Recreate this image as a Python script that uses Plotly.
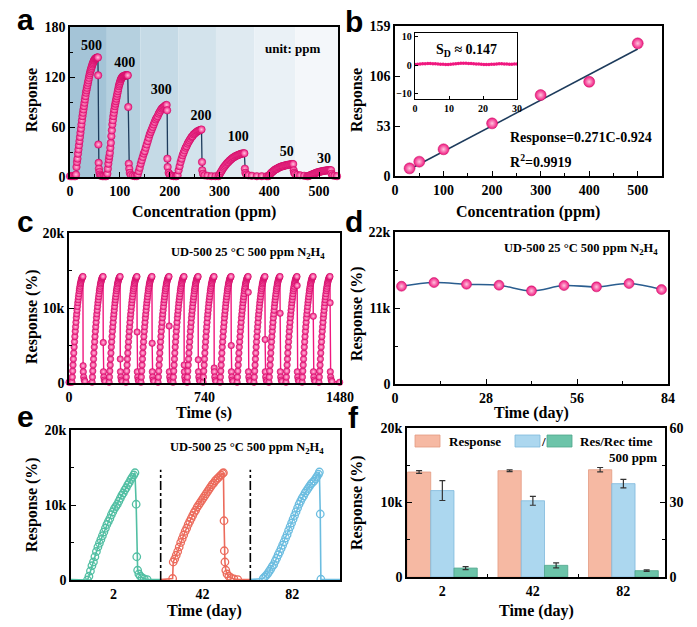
import plotly.graph_objects as go

SERIF = "Liberation Serif"
SANS = "Liberation Sans"
PINK = "#f0177f"
PINK_HI = "#ffc4de"
NAVY = "#1d3b5c"

# ---------------- a : dynamic response 500 -> 30 ppm ----------------
a_x_500 = [0, 3, 6, 9, 11] + list(range(12, 57)) + [56.5, 57, 57.5, 58, 59, 60, 62, 65, 68, 71]
a_r_500 = [1, 1, 1, 1, 1,
           3, 12, 18, 22, 28, 33, 38, 43, 48, 53, 58, 63, 68, 73, 77, 81, 85, 89, 93, 97,
           101, 104, 107, 110, 113, 116, 119, 122, 124.5, 127, 129, 131, 133, 135, 136.5,
           138, 139.5, 140.5, 141.5, 142, 142.5, 143, 143, 143.5, 143.5,
           122, 39, 17, 10, 6, 3, 1.5, 1, 1, 1]
a_x_400 = [73] + list(range(75, 117)) + [117, 118, 119, 120, 122, 126, 130, 134]
a_r_400 = [1,
           4, 10, 16, 21, 25, 29, 35, 41, 49, 56, 63, 68, 73, 77, 81, 85, 88, 91, 94, 97,
           100, 103, 106, 109, 111, 113, 115, 117, 118, 119, 120, 120.5, 121, 121, 121.5,
           121.5, 122, 122, 122, 122, 122, 122,
           84, 16, 10, 5, 2.5, 1.5, 1, 1]
a_x_300 = list(range(136, 195, 2)) + [195, 195.5, 196, 198, 200, 204, 208, 212]
a_r_300 = [3, 7, 11, 16, 20, 24, 28, 31, 35, 39, 43, 47, 51, 54, 57, 60, 63, 66, 69, 71,
           73, 76, 78, 80, 82, 83, 84, 85, 86, 86.5,
           80, 22, 12, 5, 3, 1.5, 1, 1]
a_x_200 = [214] + list(range(216, 265, 2)) + [265, 265.5, 267, 270, 276, 284, 292]
a_r_200 = [1,
           2, 8, 13, 18, 22, 26, 29, 32, 35, 37, 40, 42, 44, 46, 48, 49, 51, 52, 53, 54,
           55, 55.5, 56, 56.5, 57,
           18, 8, 4, 2, 1.5, 1, 1]
a_x_100 = list(range(298, 351, 2)) + [351, 352, 354, 358, 365, 375, 385, 395]
a_r_100 = [1, 3, 5, 7, 9, 11, 12.5, 14, 15.5, 17, 18, 19.5, 20.5, 21.5, 22.5, 23.5, 24,
           25, 25.5, 26, 26.5, 27, 27.5, 28, 28, 28.5, 28.5,
           10, 5, 3, 2, 1.5, 1, 1, 1]
a_x_50 = list(range(398, 449, 2)) + [449, 450, 452, 456, 462, 470, 476]
a_r_50 = [1, 2, 3.5, 5, 6, 7, 8, 9, 9.5, 10, 11, 11.5, 12, 12.5, 13, 13, 13.5, 14, 14,
          14.5, 14.5, 15, 15, 15.5, 15.5, 15.5,
          8, 5, 3.5, 2.5, 2, 1.5, 1]
a_x_30 = list(range(478, 525, 2)) + [525, 527, 531, 536]
a_r_30 = [1, 1.5, 2, 2.5, 3, 3.5, 4, 4.5, 5, 5.5, 5.8, 6.1, 6.4, 6.7, 7, 7.2, 7.4, 7.6,
          7.8, 8, 8, 8.2, 8.2, 8.2,
          4, 2, 1.5, 1]
a_labels = ["500", "400", "300", "200", "100", "50", "30"]
a_label_x = [43, 110, 183, 263, 338, 435, 510]
a_label_y = [157, 136, 104, 73, 47, 29, 21]
a_band_edges = [0, 74, 141, 218, 293, 370, 452, 540]
a_band_colors = ["#a4c4d7", "#b5d0df", "#c5dae6", "#d3e3ec", "#dfeaf1", "#eaf1f6", "#f4f7fa"]

# ---------------- b : calibration + noise inset ----------------
b_conc = [30, 50, 100, 200, 300, 400, 500]
b_resp = [8.1, 15.2, 28.3, 55.8, 85.8, 99.9, 140.6]
b_slope = 0.271
b_icpt = -0.924
b_in_t = [i * 0.75 for i in range(41)]
b_in_r = [0.3, 0.4, 0.5, 0.6, 0.6, 0.7, 0.7, 0.6, 0.6, 0.5,
          0.4, 0.4, 0.3, 0.3, 0.4, 0.5, 0.6, 0.7, 0.8, 0.8,
          0.8, 0.7, 0.7, 0.6, 0.5, 0.5, 0.4, 0.3, 0.3, 0.3,
          0.4, 0.4, 0.5, 0.6, 0.6, 0.5, 0.5, 0.4, 0.4, 0.5, 0.5]

# ---------------- c : 16 repeated cycles ----------------
c_rise_dt = list(range(0, 61, 2))
c_rise_k = [0.1, 0.8, 1.6, 2.4, 3.2, 4.0, 4.8, 5.5, 6.2, 6.9, 7.5, 8.1, 8.7, 9.2, 9.7,
            10.2, 10.7, 11.1, 11.5, 11.9, 12.3, 12.6, 12.9, 13.2, 13.4, 13.6, 13.8,
            13.95, 14.05, 14.15, 14.2]
c_tail_dt = [62, 64, 67, 71]
c_tail_k = [1.5, 0.8, 0.4, 0.2]
c_peak_s = [76, 186, 279, 371, 453, 546, 628, 705, 792, 885, 978, 1070, 1152, 1245, 1333, 1425]
c_drop_k = [2.3, 5.4, 3.2, 6.8, 5.3, 7.6, 2.4, 3.1, 2.0, 5.0, 12.1, 5.8, 9.3, 13.0, 8.9, 10.7]

# ---------------- d : long-term stability ----------------
d_day = [2, 12, 22, 32, 42, 52, 62, 72, 82]
d_resp_k = [14.15, 14.68, 14.44, 14.3, 13.48, 14.25, 14.06, 14.54, 13.67]

# ---------------- e : response curves on day 2 / 42 / 82 ----------------
e_seg_edges = [0, 300, 600, 900]
e_tick_pos = [142, 440, 740]
e_tick_txt = ["2", "42", "82"]
e_t_d2 = [55, 60, 65, 70, 75, 80, 85, 90, 95, 100, 105, 110, 115, 120, 125, 130, 135, 140,
          145, 150, 155, 160, 165, 170, 175, 180, 185, 190, 195, 200, 205, 210, 214,
          218, 220, 223, 227, 232, 238, 245, 255]
e_r_d2 = [0.0, 0.5, 1.2, 1.9, 2.4, 3.1, 3.8, 4.4, 4.9, 5.4, 5.9, 6.4, 6.9, 7.4, 7.8, 8.2,
          8.7, 9.1, 9.5, 9.8, 10.1, 10.5, 10.9, 11.3, 11.6, 12.0, 12.3, 12.7, 13.0, 13.4,
          13.7, 14.0, 14.3,
          10.1, 3.1, 1.3, 0.8, 0.5, 0.3, 0.15, 0.05]
e_t_d42 = [340, 342, 347, 352, 357, 362, 367, 372, 377, 382, 387, 392, 397, 402, 407, 412,
           417, 422, 427, 432, 437, 442, 447, 452, 457, 462, 467, 472, 477, 482, 487, 492,
           497, 502, 507, 510,
           512, 513, 515, 518, 522, 528, 535, 545, 558]
e_r_d42 = [0.2, 2.4, 2.8, 3.3, 3.8, 4.4, 5.0, 5.5, 6.0, 6.5, 6.9, 7.4, 7.8, 8.2, 8.6, 9.0,
           9.3, 9.7, 10.0, 10.3, 10.6, 10.9, 11.2, 11.5, 11.8, 12.1, 12.4, 12.7, 12.9, 13.2,
           13.4, 13.6, 13.8, 14.0, 14.2, 14.3,
           7.9, 3.9, 2.4, 1.3, 0.8, 0.5, 0.3, 0.15, 0.05]
e_t_d82 = [643, 648, 653, 658, 663, 668, 673, 678, 683, 688, 693, 698, 703, 708, 713, 718,
           723, 728, 733, 738, 743, 748, 753, 758, 763, 768, 773, 778, 783, 788, 793, 798,
           803, 808, 813, 818, 823, 828, 831,
           834, 836]
e_r_d82 = [0.2, 0.4, 0.6, 0.85, 1.15, 1.45, 1.8, 2.05, 2.5, 2.9, 3.35, 3.75, 4.2, 4.65, 5.1,
           5.6, 6.05, 6.6, 7.1, 7.6, 8.1, 8.6, 9.1, 9.6, 10.1, 10.5, 10.9, 11.2, 11.6, 11.9,
           12.2, 12.5, 12.8, 13.0, 13.2, 13.5, 13.8, 14.1, 14.4,
           8.8, 0.1]
e_colors = ["#52bfa3", "#ec6b5c", "#6cbde0"]

# ---------------- f : bars ----------------
f_days = ["2", "42", "82"]
f_pos = [0, 1, 2]
f_resp_k = [14.09, 14.27, 14.4]
f_resp_err = [0.18, 0.12, 0.3]
f_res_s = [34.8, 30.7, 37.6]
f_res_err = [4.0, 1.8, 1.7]
f_rec_s = [3.6, 4.7, 2.55]
f_rec_err = [0.6, 1.0, 0.3]

# page body has an 8 px margin, so lay the figure out in screen pixels minus that
W, H, OFF = 689, 619, 8


def PX(x):
    return (x - OFF) / W


def PY(y):
    return 1 - (y - OFF) / H


def dom_x(x0, x1):
    return [PX(x0), PX(x1)]


def dom_y(top, bottom):
    return [PY(bottom), PY(top)]


fig = go.Figure()


def sphere(size):
    return dict(color=PINK, size=size, line=dict(color="#c40f63", width=0.5),
                gradient=dict(type="radial", color=PINK_HI))


# a
a_x, a_r = [], []
for xs, rs in [(a_x_500, a_r_500), (a_x_400, a_r_400), (a_x_300, a_r_300), (a_x_200, a_r_200),
               (a_x_100, a_r_100), (a_x_50, a_r_50), (a_x_30, a_r_30)]:
    a_x += xs
    a_r += rs
fig.add_trace(go.Scatter(x=a_x, y=a_r, mode="lines+markers", xaxis="x", yaxis="y",
                         line=dict(color=NAVY, width=1.3), marker=sphere(7.5), cliponaxis=False))
fig.add_trace(go.Scatter(x=a_label_x, y=a_label_y, text=a_labels, mode="text", xaxis="x", yaxis="y",
                         textfont=dict(family=SERIF, size=14, color="black", weight="bold")))

# b
fit_x = [min(b_conc), max(b_conc)]
fit_y = [b_slope * v + b_icpt for v in fit_x]
fig.add_trace(go.Scatter(x=fit_x, y=fit_y, mode="lines", xaxis="x2", yaxis="y2",
                         line=dict(color=NAVY, width=1.6)))
fig.add_trace(go.Scatter(x=b_conc, y=b_resp, mode="markers", xaxis="x2", yaxis="y2",
                         marker=sphere(11)))
fig.add_trace(go.Scatter(x=b_in_t, y=b_in_r, mode="lines+markers", xaxis="x3", yaxis="y3",
                         line=dict(color=PINK, width=1), marker=dict(color=PINK, size=3.5)))

# c
c_t, c_k = [0, 8], [0.1, 0.1]
for pk, mid in zip(c_peak_s, c_drop_k):
    t0 = pk - 60
    c_t += [t0 + d for d in c_rise_dt] + [t0 + 61] + [t0 + d for d in c_tail_dt]
    c_k += c_rise_k + [mid] + c_tail_k
c_t += [1478]
c_k += [0.1]
fig.add_trace(go.Scatter(x=c_t, y=c_k, mode="lines+markers", xaxis="x4", yaxis="y4",
                         line=dict(color=PINK, width=1.4), marker=sphere(6.5), cliponaxis=False))

# d
fig.add_trace(go.Scatter(x=d_day, y=d_resp_k, mode="lines+markers", xaxis="x5", yaxis="y5",
                         line=dict(color="#2a5d8f", width=1.6, shape="spline"), marker=sphere(10)))

# e
for i, (ts, rs) in enumerate([(e_t_d2, e_r_d2), (e_t_d42, e_r_d42), (e_t_d82, e_r_d82)]):
    fig.add_trace(go.Scatter(x=[e_seg_edges[i]] + ts + [e_seg_edges[i + 1]], y=[0.05] + rs + [0.05],
                             mode="lines", xaxis="x6", yaxis="y6",
                             line=dict(color=e_colors[i], width=1.6)))
    fig.add_trace(go.Scatter(x=ts, y=rs, mode="markers", xaxis="x6", yaxis="y6",
                             marker=dict(symbol="circle-open", size=7.5, color=e_colors[i],
                                         line=dict(width=1.3))))

# f
bar_w = 0.257
fig.add_trace(go.Bar(x=f_pos, y=f_resp_k, xaxis="x7", yaxis="y7", width=bar_w, offset=-0.385,
                     marker=dict(color="#f6b9a3", line=dict(color="#e39a82", width=0.8)),
                     error_y=dict(type="data", array=f_resp_err, color="#333", thickness=1.2, width=3)))
fig.add_trace(go.Bar(x=f_pos, y=f_res_s, xaxis="x7", yaxis="y8", width=bar_w, offset=-0.128,
                     marker=dict(color="#acd7ef", line=dict(color="#7fb9dc", width=0.8)),
                     error_y=dict(type="data", array=f_res_err, color="#333", thickness=1.2, width=3)))
fig.add_trace(go.Bar(x=f_pos, y=f_rec_s, xaxis="x7", yaxis="y8", width=bar_w, offset=0.129,
                     marker=dict(color="#6cc4a9", line=dict(color="#4fa68b", width=0.8)),
                     error_y=dict(type="data", array=f_rec_err, color="#333", thickness=1.2, width=3)))


def frame(**kw):
    d = dict(showline=True, linecolor="black", linewidth=1.6, mirror=True, ticks="inside",
             ticklen=5, tickwidth=1.3, tickcolor="black", showgrid=False, zeroline=False,
             automargin=False,
             tickfont=dict(family=SERIF, size=14, color="black", weight="bold"))
    d.update(kw)
    return d


def minor(**kw):
    d = dict(ticks="inside", ticklen=3, tickwidth=1, tickcolor="black")
    d.update(kw)
    return d


shapes = []
for i, col in enumerate(a_band_colors):
    shapes.append(dict(type="rect", xref="x", yref="y domain", x0=a_band_edges[i], x1=a_band_edges[i + 1],
                       y0=0, y1=1, fillcolor=col, line=dict(width=0), layer="below"))
for xv in e_seg_edges[1:-1]:
    shapes.append(dict(type="line", xref="x6", yref="y6", x0=xv, x1=xv, y0=0, y1=14.7,
                       line=dict(color="black", width=1.6, dash="dashdot")))
# legend swatches of f (screen px)
for x0, x1, col, lc in [(415, 440, "#f6b9a3", "#e39a82"), (515, 540, "#acd7ef", "#7fb9dc"),
                        (547, 572, "#6cc4a9", "#4fa68b")]:
    shapes.append(dict(type="rect", xref="paper", yref="paper", x0=PX(x0), x1=PX(x1), y0=PY(447), y1=PY(435),
                       fillcolor=col, line=dict(color=lc, width=0.8)))


def note(x, y, text, size=14, xanchor="center", angle=0, family=SERIF):
    return dict(x=PX(x), y=PY(y), xref="paper", yref="paper", text=text, showarrow=False, xanchor=xanchor,
                yanchor="middle", textangle=angle, font=dict(family=family, size=size, color="black"))


cond = "<b>UD-500 25 °C 500 ppm N<sub>2</sub>H<sub>4</sub></b>"
annotations = [
    # panel letters
    note(25, 19, "<b>a</b>", 30, family=SANS),
    note(354, 21, "<b>b</b>", 30, family=SANS),
    note(25, 221, "<b>c</b>", 30, family=SANS),
    note(354, 221, "<b>d</b>", 30, family=SANS),
    note(25, 416, "<b>e</b>", 30, family=SANS),
    note(354, 417, "<b>f</b>", 30, family=SANS),
    # axis titles
    note(32, 100, "<b>Response</b>", 16, angle=-90),
    note(204, 212, "<b>Concentration (ppm)</b>", 16),
    note(357, 100, "<b>Response</b>", 16, angle=-90),
    note(528, 212, "<b>Concentration (ppm)</b>", 16),
    note(32, 317, "<b>Response (%)</b>", 16, angle=-90),
    note(204, 413, "<b>Time (s)</b>", 16),
    note(357, 313, "<b>Response (%)</b>", 16, angle=-90),
    note(531, 413, "<b>Time (day)</b>", 16),
    note(32, 505, "<b>Response (%)</b>", 16, angle=-90),
    note(205, 611, "<b>Time (day)</b>", 16),
    note(357, 502, "<b>Response (%)</b>", 16, angle=-90),
    note(536, 611, "<b>Time (day)</b>", 16),
    # in-plot texts
    note(292, 48, "<b>unit: ppm</b>", 13),
    note(508, 138, "<b>Response=0.271C-0.924</b>", 14, xanchor="left"),
    note(508, 161, "<b>R<sup>2</sup>=0.9919</b>", 14, xanchor="left"),
    note(466, 50, "<b>S<sub>D</sub> ≈ 0.147</b>", 14),
    note(327, 253, cond, 12.5, xanchor="right"),
    note(660, 249, cond, 12.5, xanchor="right"),
    note(326, 448, cond, 12.5, xanchor="right"),
    note(447, 441, "<b>Response</b>", 13, xanchor="left"),
    note(543, 441, "<b>/</b>", 13),
    note(578, 441, "<b>Res/Rec time</b>", 13, xanchor="left"),
    note(659, 457, "<b>500 ppm</b>", 13, xanchor="right"),
]

small_tf = dict(family=SERIF, size=10, color="black", weight="bold")

fig.update_layout(
    width=W, height=H, margin=dict(l=0, r=0, t=0, b=0),
    paper_bgcolor="white", plot_bgcolor="white", showlegend=False,
    shapes=shapes, annotations=annotations,
    xaxis=frame(domain=dom_x(70, 338), anchor="y", range=[0, 538], tickvals=[0, 100, 200, 300, 400, 500],
                minor=minor(dtick=50)),
    yaxis=frame(domain=dom_y(27, 177), anchor="x", range=[0, 180], tickvals=[0, 60, 120, 180],
                minor=minor(dtick=30)),
    xaxis2=frame(domain=dom_x(395, 662), anchor="y2", range=[0, 550], tickvals=[0, 100, 200, 300, 400, 500],
                 minor=minor(dtick=50)),
    yaxis2=frame(domain=dom_y(26, 176), anchor="x2", range=[0, 159], tickvals=[0, 53, 106, 159]),
    xaxis3=frame(domain=dom_x(415, 517), anchor="y3", range=[0, 30], tickvals=[0, 10, 20, 30], ticklen=3,
                 linewidth=1.3, tickfont=small_tf),
    yaxis3=frame(domain=dom_y(33, 99), anchor="x3", range=[-11.8, 11.4], tickvals=[-10, 0, 10], ticklen=3,
                 linewidth=1.3, tickfont=small_tf),
    xaxis4=frame(domain=dom_x(69, 340), anchor="y4", range=[0, 1480], tickvals=[0, 740, 1480]),
    yaxis4=frame(domain=dom_y(233, 383), anchor="x4", range=[0, 20], tickvals=[0, 10, 20],
                 ticktext=["0", "10k", "20k"], minor=minor(dtick=5)),
    xaxis5=frame(domain=dom_x(395, 668), anchor="y5", range=[0, 84], tickvals=[0, 28, 56, 84],
                 minor=minor(dtick=14)),
    yaxis5=frame(domain=dom_y(232, 384), anchor="x5", range=[0, 22], tickvals=[0, 11, 22],
                 ticktext=["0", "11k", "22k"], minor=minor(dtick=5.5)),
    xaxis6=frame(domain=dom_x(71, 340), anchor="y6", range=[0, 900], tickvals=e_tick_pos,
                 ticktext=e_tick_txt, ticks=""),
    yaxis6=frame(domain=dom_y(430, 580), anchor="x6", range=[0, 20], tickvals=[0, 10, 20],
                 ticktext=["0", "10k", "20k"], minor=minor(dtick=5)),
    xaxis7=frame(domain=dom_x(407, 665), anchor="y7", range=[-0.39, 2.46], tickvals=f_pos,
                 ticktext=f_days, ticks="", minor=minor(tickvals=[0.5, 1.5])),
    yaxis7=frame(domain=dom_y(428, 577), anchor="x7", range=[0, 20], tickvals=[0, 10, 20],
                 ticktext=["0", "10k", "20k"], minor=minor(dtick=5)),
    yaxis8=frame(overlaying="y7", anchor="x7", side="right", range=[0, 60], tickvals=[0, 30, 60],
                 mirror=False, minor=minor(dtick=15)),
)

fig.write_html("out.html")
